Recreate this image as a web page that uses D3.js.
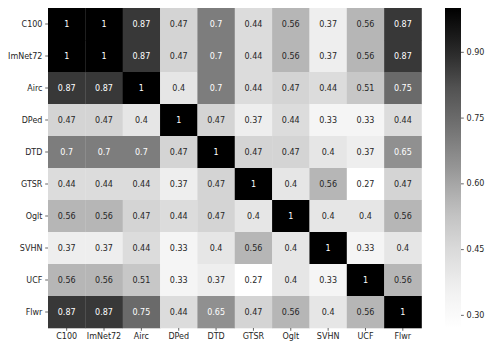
<!DOCTYPE html>
<html>
<head>
<meta charset="UTF-8">
<script src="https://d3js.org/d3.v7.min.js"></script>
<style>
  body { margin: 0; padding: 0; background: #fff; }
  svg text { font-family: "DejaVu Sans", sans-serif; }
  .axis path.domain { display: none; }
  .axis line { stroke: #262626; stroke-width: 0.7; }
  .axis text { fill: #262626; font-size: 8px; }
</style>
</head>
<body>
<div id="chart"></div>
<script>
  // labels, same for rows and columns
  const names = ["C100", "ImNet72", "Airc", "DPed", "DTD", "GTSR", "Oglt", "SVHN", "UCF", "Flwr"];

  // one array per row
  const rowC100    = [1, 1, 0.87, 0.47, 0.7, 0.44, 0.56, 0.37, 0.56, 0.87];
  const rowImNet72 = [1, 1, 0.87, 0.47, 0.7, 0.44, 0.56, 0.37, 0.56, 0.87];
  const rowAirc    = [0.87, 0.87, 1, 0.4, 0.7, 0.44, 0.47, 0.44, 0.51, 0.75];
  const rowDPed    = [0.47, 0.47, 0.4, 1, 0.47, 0.37, 0.44, 0.33, 0.33, 0.44];
  const rowDTD     = [0.7, 0.7, 0.7, 0.47, 1, 0.47, 0.47, 0.4, 0.37, 0.65];
  const rowGTSR    = [0.44, 0.44, 0.44, 0.37, 0.47, 1, 0.4, 0.56, 0.27, 0.47];
  const rowOglt    = [0.56, 0.56, 0.47, 0.44, 0.47, 0.4, 1, 0.4, 0.4, 0.56];
  const rowSVHN    = [0.37, 0.37, 0.44, 0.33, 0.4, 0.56, 0.4, 1, 0.33, 0.4];
  const rowUCF     = [0.56, 0.56, 0.51, 0.33, 0.37, 0.27, 0.4, 0.33, 1, 0.56];
  const rowFlwr    = [0.87, 0.87, 0.75, 0.44, 0.65, 0.47, 0.56, 0.4, 0.56, 1];
  const rows = [rowC100, rowImNet72, rowAirc, rowDPed, rowDTD, rowGTSR, rowOglt, rowSVHN, rowUCF, rowFlwr];

  const cbarTicks = [0.30, 0.45, 0.60, 0.75, 0.90];

  const W = 491, H = 348;
  const plot = { left: 48, top: 8, right: 421.5, bottom: 328 };
  const cbar = { left: 445, right: 461 };

  const cells = [];
  rows.forEach((r, i) => r.forEach((v, j) => cells.push({ row: names[i], col: names[j], v })));

  const vmin = d3.min(cells, d => d.v), vmax = d3.max(cells, d => d.v);

  // matplotlib Greys (linear through the brewer stops)
  const greys = ["#ffffff", "#f0f0f0", "#d9d9d9", "#bdbdbd", "#969696", "#737373", "#525252", "#252525", "#000000"];
  const color = d3.scaleLinear()
    .domain(greys.map((_, i) => vmin + (vmax - vmin) * i / (greys.length - 1)))
    .range(greys)
    .clamp(true);

  const x = d3.scaleBand().domain(names).range([plot.left, plot.right]);
  const y = d3.scaleBand().domain(names).range([plot.top, plot.bottom]);

  const svg = d3.select("#chart").append("svg")
    .attr("width", W).attr("height", H);

  svg.append("g").selectAll("rect")
    .data(cells).enter().append("rect")
    .attr("x", d => x(d.col))
    .attr("y", d => y(d.row))
    .attr("width", x.bandwidth() + 0.3)
    .attr("height", y.bandwidth() + 0.3)
    .attr("fill", d => color(d.v));

  function lum(c) {
    const rgb = d3.rgb(c);
    const f = k => { k /= 255; return k <= 0.03928 ? k / 12.92 : Math.pow((k + 0.055) / 1.055, 2.4); };
    return 0.2126 * f(rgb.r) + 0.7152 * f(rgb.g) + 0.0722 * f(rgb.b);
  }

  svg.append("g").selectAll("text")
    .data(cells).enter().append("text")
    .attr("x", d => x(d.col) + x.bandwidth() / 2)
    .attr("y", d => y(d.row) + y.bandwidth() / 2)
    .attr("text-anchor", "middle")
    .attr("dominant-baseline", "central")
    .attr("font-size", 8)
    .attr("fill", d => lum(color(d.v)) > 0.408 ? "#262626" : "#ffffff")
    .text(d => d3.format("~g")(+d.v.toFixed(2)));

  svg.append("g").attr("class", "axis")
    .attr("transform", `translate(${plot.left},0)`)
    .call(d3.axisLeft(y).tickSize(2.8).tickPadding(2.8));

  svg.append("g").attr("class", "axis")
    .attr("transform", `translate(0,${plot.bottom})`)
    .call(d3.axisBottom(x).tickSize(2.8).tickPadding(2.8));

  // colorbar
  const cy = d3.scaleLinear().domain([vmin, vmax]).range([plot.bottom, plot.top]);
  const grad = svg.append("defs").append("linearGradient")
    .attr("id", "cbar").attr("x1", 0).attr("y1", 1).attr("x2", 0).attr("y2", 0);
  d3.range(0, 1.0001, 0.05).forEach(t => {
    grad.append("stop").attr("offset", t).attr("stop-color", color(vmin + t * (vmax - vmin)));
  });
  svg.append("rect")
    .attr("x", cbar.left).attr("y", plot.top)
    .attr("width", cbar.right - cbar.left)
    .attr("height", plot.bottom - plot.top)
    .attr("fill", "url(#cbar)");

  svg.append("g").attr("class", "axis")
    .attr("transform", `translate(${cbar.right},0)`)
    .call(d3.axisRight(cy).tickValues(cbarTicks).tickFormat(d3.format(".2f")).tickSize(2.8).tickPadding(2.8));
</script>
</body>
</html>
